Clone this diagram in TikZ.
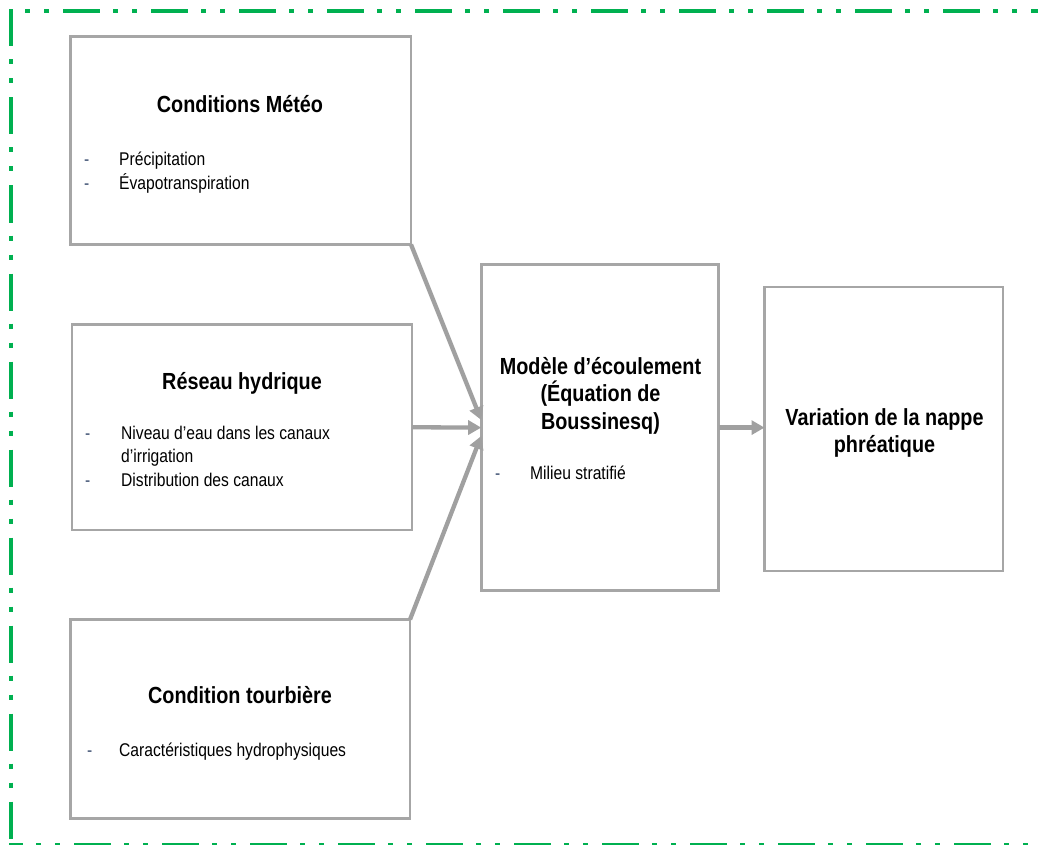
\documentclass[tikz,border=0pt]{standalone}
\usepackage{fontspec}
\setmainfont[FakeStretch=0.85]{Liberation Sans}
\usetikzlibrary{arrows.meta}
\definecolor{bordergreen}{RGB}{0,176,80}
\definecolor{boxgray}{RGB}{166,166,166}
\definecolor{arrowgray}{RGB}{160,160,160}
\definecolor{bulletblue}{RGB}{55,75,110}
\begin{document}
\begin{tikzpicture}[x=1pt,y=-1pt,
  box/.style={draw=boxgray, line width=2.7pt, inner sep=0pt, outer sep=0pt, rectangle},
  title/.style={font=\fontsize{23.3}{27.5}\selectfont\bfseries, anchor=base, inner sep=0pt},
  item/.style={font=\fontsize{18.4}{23.5}\selectfont, anchor=base west, inner sep=0pt},
  bulletmark/.style={font=\fontsize{18.4}{23.5}\selectfont, text=bulletblue, anchor=base west, inner sep=0pt},
  flow/.style={draw=arrowgray, line width=4.3pt, -{Triangle[length=13pt,width=14pt]}},
  greenframe/.style={draw=bordergreen, line width=4pt, dash pattern=on 37pt off 13pt on 5pt off 14pt on 5pt off 14pt}
]
\useasboundingbox (0,0) rectangle (1038,845);
\clip (0,0) rectangle (1038,845);
% green dash-dot-dot frame
\coordinate (ftl) at (9,10.7);
\coordinate (ftr) at (1045,10.7);
\coordinate (fbl) at (9,845.3);
\coordinate (fbr) at (1045,845.3);
\coordinate (fl1) at (11,9.5);
\coordinate (fl2) at (11,847);
\draw[greenframe, dash phase=34pt] (ftl) -- (ftr);
\draw[greenframe, dash phase=23pt] (fbl) -- (fbr);
\draw[greenframe, dash phase=0pt] (fl1) -- (fl2);
% boxes
\node[box, minimum width=340.5pt, minimum height=208pt] (meteo) at (240.75,140.5) {};
\node[box, minimum width=340pt, minimum height=205.5pt] (reseau) at (242,427.25) {};
\node[box, minimum width=339.7pt, minimum height=199.2pt] (tourb) at (240.15,719.1) {};
\node[box, minimum width=237.6pt, minimum height=325.8pt] (model) at (600,427.6) {};
\node[box, minimum width=238.5pt, minimum height=284pt] (var) at (883.75,429) {};
% texts: meteo
\node[title] (tmeteo) at (240,113) {Conditions Météo};
\node[bulletmark] (bm1) at (84,166) {-};
\node[item] (im1) at (119,166) {Précipitation};
\node[bulletmark] (bm2) at (84,189.5) {-};
\node[item] (im2) at (119,189.5) {Évapotranspiration};
% reseau
\node[title] (treseau) at (242,389.5) {Réseau hydrique};
\node[bulletmark] (br1) at (85,439) {-};
\node[item] (ir1) at (121,439) {Niveau d’eau dans les canaux};
\node[item] (ir2) at (121,462.5) {d’irrigation};
\node[bulletmark] (br2) at (85,486) {-};
\node[item] (ir3) at (121,486) {Distribution des canaux};
% tourbiere
\node[title] (ttourb) at (240,703) {Condition tourbière};
\node[bulletmark] (bt1) at (87,756) {-};
\node[item] (it1) at (119,756) {Caractéristiques hydrophysiques};
% model
\node[title] (tmod1) at (600.5,374) {Modèle d’écoulement};
\node[title] (tmod2) at (600.5,401.5) {(Équation de};
\node[title] (tmod3) at (600.5,429) {Boussinesq)};
\node[bulletmark] (bmo1) at (495,479) {-};
\node[item] (imo1) at (530,479) {Milieu stratifié};
% variation
\node[title] (tvar1) at (884.5,425) {Variation de la nappe};
\node[title] (tvar2) at (884.5,452.5) {phréatique};
% arrows
\coordinate (tip1) at (481.2,420);
\coordinate (tip3) at (481.2,436);
\draw[flow] (meteo.south east) -- (tip1);
\draw[flow] (reseau.east) -- (model.west);
\draw[flow] (tourb.north east) -- (tip3);
\draw[flow] (model.east) -- (model.east -| var.west);
\end{tikzpicture}
\end{document}
